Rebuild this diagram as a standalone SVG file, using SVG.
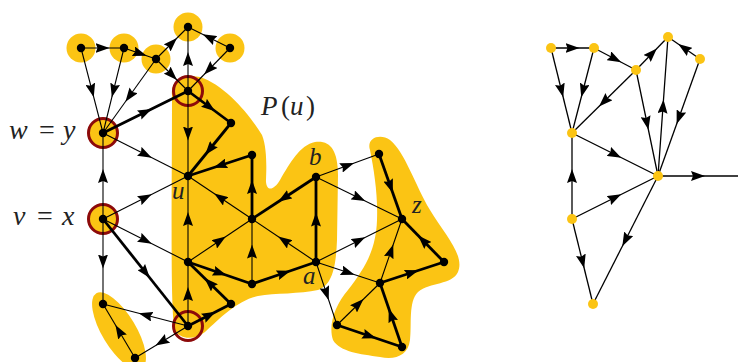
<svg xmlns="http://www.w3.org/2000/svg" width="738" height="362" viewBox="0 0 738 362">
<style>
.bg{fill:#fbc414;stroke:none}
.e{fill:none;stroke:#000;stroke-width:1.1;marker-mid:url(#ah)}
.t{fill:none;stroke:#000;stroke-width:2.8;marker-mid:url(#ah)}
.r{fill:none;stroke:#000;stroke-width:1.3;marker-mid:url(#ah)}
.d{fill:#000}
.y{fill:#fbc414}
.ring{fill:#fbc414;stroke:#8c0a0a;stroke-width:3}
.ringo{fill:none;stroke:#8c0a0a;stroke-width:3}
.lab{font-family:"Liberation Serif",serif;font-size:25px;fill:#222}
.big{font-size:28px}
.it{font-style:italic}
</style>
<defs>
<marker id="ah" viewBox="0 0 14 10" refX="7" refY="5" markerWidth="14" markerHeight="10" markerUnits="userSpaceOnUse" orient="auto">
<path d="M0,0 L14,5 L0,10 L2,5 Z" fill="#000"/>
</marker>
</defs>
<rect width="738" height="362" fill="#fff"/>
<g id="regions">
<path class="bg" d="M172 95 C170 80 185 74 200 77 C225 85 250 115 262 135 C268 150 266 175 266 182 C267 192 274 190 280 180 C290 163 300 145 315 142 C330 140 338 150 338 175 L337 240 C336 265 333 285 318 290 C300 294 275 293 258 296 C238 300 220 318 205 332 C195 340 180 340 175 330 C170 315 172 200 172 95 Z"/>
<path class="bg" d="M370 150 C366 138 380 133 390 140 C405 152 415 185 430 210 C445 235 465 255 458 272 C452 285 430 282 418 292 C408 302 412 325 410 340 C408 356 395 360 380 357 C360 354 340 352 333 340 C328 325 335 305 348 290 C365 268 376 250 377 220 C378 195 374 170 370 150 Z"/>
<ellipse class="bg" cx="119" cy="331" rx="44" ry="17" transform="rotate(59 119 331)"/>
<circle class="bg" cx="81" cy="48" r="14.5"/>
<circle class="bg" cx="124" cy="48" r="14.5"/>
<circle class="bg" cx="156" cy="59" r="14.5"/>
<circle class="bg" cx="188" cy="27" r="14.5"/>
<circle class="bg" cx="230" cy="48" r="14.5"/>
<circle class="ring" cx="103" cy="133" r="14.5"/>
<circle class="ring" cx="103" cy="219" r="14.5"/>
<circle class="ringo" cx="188" cy="91" r="14.5"/>
<circle class="ringo" cx="188" cy="326" r="14.5"/>
</g>
<g id="connectors">
<path class="e" d="M81 48 L102.5 48 L124 48"/>
<path class="e" d="M124 48 L140 53.5 L156 59"/>
<path class="e" d="M156 59 L172 43 L188 27"/>
<path class="e" d="M230 48 L209 37.5 L188 27"/>
<path class="e" d="M156 59 L172 75 L188 91"/>
<path class="e" d="M230 48 L209 69.5 L188 91"/>
<path class="e" d="M188 91 L188 59 L188 27"/>
<path class="e" d="M81 48 L92 90.5 L103 133"/>
<path class="e" d="M124 48 L113.5 90.5 L103 133"/>
<path class="e" d="M156 59 L129.5 96 L103 133"/>
<path class="e" d="M188 91 L188 133.5 L188 176"/>
<path class="e" d="M103 133 L145.5 154.5 L188 176"/>
<path class="e" d="M103 219 L103 176 L103 133"/>
<path class="e" d="M103 219 L145.5 197.5 L188 176"/>
<path class="e" d="M103 219 L145.5 240.5 L188 262"/>
<path class="e" d="M103 219 L103 261.5 L103 304"/>
<path class="e" d="M188 326 L145.5 315 L103 304"/>
<path class="e" d="M188 326 L161.5 342 L135 358"/>
<path class="e" d="M135 358 L119 331 L103 304"/>
<path class="e" d="M188 326 L188 294 L188 262"/>
<path class="e" d="M188 262 L188 219 L188 176"/>
<path class="e" d="M252 284 L252 251.5 L252 219"/>
<path class="e" d="M188 262 L220 240.5 L252 219"/>
<path class="e" d="M252 219 L220 197.5 L188 176"/>
<path class="e" d="M316 262 L284 240.5 L252 219"/>
<path class="e" d="M316 177 L347.5 165.5 L379 154"/>
<path class="e" d="M316 177 L359 198 L402 219"/>
<path class="e" d="M316 262 L359 240.5 L402 219"/>
<path class="e" d="M316 262 L348 272.5 L380 283"/>
<path class="e" d="M316 262 L326.5 293.5 L337 325"/>
<path class="e" d="M380 283 L391 251 L402 219"/>
<path class="e" d="M337 325 L358.5 304 L380 283"/>
<path class="t" d="M103 133 L145.5 112 L188 91"/>
<path class="t" d="M188 91 L209.5 107 L231 123"/>
<path class="t" d="M231 123 L209.5 149.5 L188 176"/>
<path class="t" d="M252 219 L252 187 L252 155"/>
<path class="t" d="M252 155 L220 165.5 L188 176"/>
<path class="t" d="M316 177 L284 198 L252 219"/>
<path class="t" d="M316 262 L316 219.5 L316 177"/>
<path class="t" d="M188 262 L220 273 L252 284"/>
<path class="t" d="M252 284 L284 273 L316 262"/>
<path class="t" d="M188 326 L209.5 315 L231 304"/>
<path class="t" d="M231 304 L209.5 283 L188 262"/>
<path class="t" d="M103 219 L145.5 272.5 L188 326"/>
<path class="t" d="M379 154 L390.5 186.5 L402 219"/>
<path class="t" d="M444 262 L423 240.5 L402 219"/>
<path class="t" d="M380 283 L412 272.5 L444 262"/>
<path class="t" d="M337 325 L369.5 336 L402 347"/>
<path class="t" d="M402 347 L391 315 L380 283"/>
<path class="r" d="M551 48 L572.5 48 L594 48"/>
<path class="r" d="M594 48 L615 59 L636 70"/>
<path class="r" d="M636 70 L652 53.5 L668 37"/>
<path class="r" d="M700 59 L684 48 L668 37"/>
<path class="r" d="M551 48 L561.5 90.5 L572 133"/>
<path class="r" d="M594 48 L583 90.5 L572 133"/>
<path class="r" d="M636 70 L604 101.5 L572 133"/>
<path class="r" d="M636 70 L647 123 L658 176"/>
<path class="r" d="M658 176 L663 106.5 L668 37"/>
<path class="r" d="M700 59 L679 117.5 L658 176"/>
<path class="r" d="M572 133 L615 154.5 L658 176"/>
<path class="r" d="M572 219 L572 176 L572 133"/>
<path class="r" d="M572 219 L615 197.5 L658 176"/>
<path class="r" d="M572 219 L582.5 261.5 L593 304"/>
<path class="r" d="M658 176 L625.5 240 L593 304"/>
<path class="r" d="M658 176 L698 176 L738 176"/>
</g>
<g id="T1"><circle class="d" cx="81" cy="48" r="4.2"/></g>
<g id="T2"><circle class="d" cx="124" cy="48" r="4.2"/></g>
<g id="T3"><circle class="d" cx="156" cy="59" r="4.2"/></g>
<g id="T4"><circle class="d" cx="188" cy="27" r="4.2"/></g>
<g id="T5"><circle class="d" cx="230" cy="48" r="4.2"/></g>
<g id="R"><circle class="d" cx="188" cy="91" r="4.2"/></g>
<g id="R2"><circle class="d" cx="231" cy="123" r="4.2"/></g>
<g id="W"><circle class="d" cx="103" cy="133" r="4.2"/><text class="lab big" y="139"><tspan class="it" x="9">w</tspan><tspan x="39">=</tspan><tspan class="it" x="63">y</tspan></text></g>
<g id="U"><circle class="d" cx="188" cy="176" r="4.2"/><text class="lab it" x="172" y="199">u</text></g>
<g id="N1"><circle class="d" cx="252" cy="155" r="4.2"/></g>
<g id="V"><circle class="d" cx="103" cy="219" r="4.2"/><text class="lab big" y="225"><tspan class="it" x="13">v</tspan><tspan x="37">=</tspan><tspan class="it" x="62">x</tspan></text></g>
<g id="M"><circle class="d" cx="252" cy="219" r="4.2"/></g>
<g id="B"><circle class="d" cx="316" cy="177" r="4.2"/><text class="lab it" x="309" y="165">b</text></g>
<g id="A"><circle class="d" cx="316" cy="262" r="4.2"/><text class="lab it" x="303" y="284">a</text></g>
<g id="L"><circle class="d" cx="188" cy="262" r="4.2"/></g>
<g id="Bot"><circle class="d" cx="252" cy="284" r="4.2"/></g>
<g id="S"><circle class="d" cx="188" cy="326" r="4.2"/></g>
<g id="S2"><circle class="d" cx="231" cy="304" r="4.2"/></g>
<g id="B1"><circle class="d" cx="103" cy="304" r="4.2"/></g>
<g id="B2"><circle class="d" cx="135" cy="358" r="4.2"/></g>
<g id="Zt"><circle class="d" cx="379" cy="154" r="4.2"/></g>
<g id="Z"><circle class="d" cx="402" cy="219" r="4.2"/><text class="lab it" x="412" y="213">z</text></g>
<g id="Zr"><circle class="d" cx="444" cy="262" r="4.2"/></g>
<g id="Zm"><circle class="d" cx="380" cy="283" r="4.2"/></g>
<g id="Zbl"><circle class="d" cx="337" cy="325" r="4.2"/></g>
<g id="Zb"><circle class="d" cx="402" cy="347" r="4.2"/></g>
<g id="Pu"><text class="lab" y="115" style="font-size:27px"><tspan class="it" x="261">P</tspan><tspan x="281">(</tspan><tspan class="it" x="290">u</tspan><tspan x="306">)</tspan></text></g>
<g id="A1"><circle class="y" cx="551" cy="48" r="5"/></g>
<g id="A2"><circle class="y" cx="594" cy="48" r="5"/></g>
<g id="A3"><circle class="y" cx="636" cy="70" r="5"/></g>
<g id="A4"><circle class="y" cx="668" cy="37" r="5"/></g>
<g id="A5"><circle class="y" cx="700" cy="59" r="5"/></g>
<g id="A6"><circle class="y" cx="572" cy="133" r="5"/></g>
<g id="C"><circle class="y" cx="658" cy="176" r="5"/></g>
<g id="A7"><circle class="y" cx="572" cy="219" r="5"/></g>
<g id="A8"><circle class="y" cx="593" cy="304" r="5"/></g>
</svg>
